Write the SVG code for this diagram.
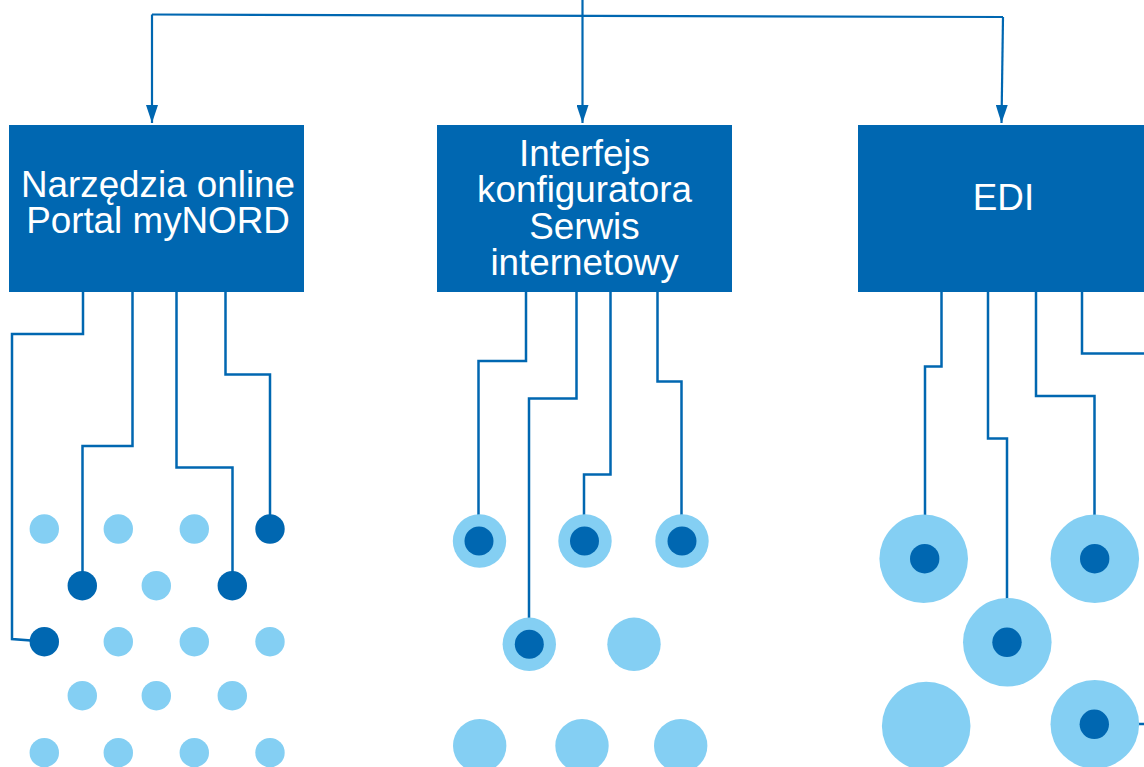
<svg xmlns="http://www.w3.org/2000/svg" width="1144" height="767" viewBox="0 0 1144 767">
<style>
.box{fill:#0067b1}
.lbl{font-family:"Liberation Sans",Arial,sans-serif;font-size:36.8px;fill:#ffffff;text-anchor:middle}
.wire{fill:none;stroke:#0067b1;stroke-width:2.5}
.top{fill:none;stroke:#0067b1;stroke-width:2.2}
.lt{fill:#84cff3}
.dk{fill:#0067b1}
</style>
<defs>
<marker id="ah" viewBox="0 0 18 12" refX="18" refY="6" markerWidth="18" markerHeight="12" markerUnits="userSpaceOnUse" orient="auto">
<path d="M0,0 L18,6 L0,12 Z" fill="#0067b1"/>
</marker>
</defs>
<g id="connectors">
<path class="top" d="M582.5,0 V123" marker-end="url(#ah)"/>
<path class="top" d="M152,14.5 L1003,17"/>
<path class="top" d="M152,14.5 V123" marker-end="url(#ah)"/>
<path class="top" d="M1003,17 L1001.5,123" marker-end="url(#ah)"/>
<path class="wire" d="M83,292 V334 H12 V639 L44,641.5"/>
<path class="wire" d="M132.5,292 V446 H82.5 V585.5"/>
<path class="wire" d="M176.5,292 V467.5 H232.5 V585.5"/>
<path class="wire" d="M225.5,292 V374.5 H270 V529"/>
<path class="wire" d="M526,292 V361 H478.5 V541"/>
<path class="wire" d="M576.5,292 V398.5 H529 V644"/>
<path class="wire" d="M610.5,292 V474.5 H584 V541"/>
<path class="wire" d="M657.5,292 V381.5 H681.5 V541"/>
<path class="wire" d="M941.5,292 V366.5 H925 V558.5"/>
<path class="wire" d="M988,292 V438.5 H1007 V642"/>
<path class="wire" d="M1036,292 V396 H1094.5 V558.5"/>
<path class="wire" d="M1082,292 V353.5 H1144"/>
<path class="wire" d="M1094.5,724 H1144"/>
</g>
<g id="node-narzedzia">
<rect class="box" x="9" y="125" width="295" height="167"/>
<text class="lbl" x="158" y="197">Narzędzia online</text>
<text class="lbl" x="158" y="233">Portal myNORD</text>
</g>
<g id="node-interfejs">
<rect class="box" x="437" y="125" width="295" height="167"/>
<text class="lbl" x="584.5" y="166">Interfejs</text>
<text class="lbl" x="584.5" y="202">konfiguratora</text>
<text class="lbl" x="584.5" y="238.5">Serwis</text>
<text class="lbl" x="584.5" y="275">internetowy</text>
</g>
<g id="node-edi">
<rect class="box" x="858" y="125" width="290" height="167"/>
<text class="lbl" x="1003.5" y="209.5">EDI</text>
</g>
<g id="dots-1">
<circle class="lt" cx="44.3" cy="529" r="14.7"/>
<circle class="lt" cx="118.3" cy="529" r="14.7"/>
<circle class="lt" cx="194.3" cy="529" r="14.7"/>
<circle class="dk" cx="270" cy="529" r="14.7"/>
<circle class="dk" cx="82.3" cy="585.7" r="14.7"/>
<circle class="lt" cx="156.3" cy="585.7" r="14.7"/>
<circle class="dk" cx="232.3" cy="585.7" r="14.7"/>
<circle class="dk" cx="44.3" cy="641.7" r="14.7"/>
<circle class="lt" cx="118.3" cy="641.7" r="14.7"/>
<circle class="lt" cx="194.3" cy="641.7" r="14.7"/>
<circle class="lt" cx="270" cy="641.7" r="14.7"/>
<circle class="lt" cx="82.3" cy="695.7" r="14.7"/>
<circle class="lt" cx="156.3" cy="695.7" r="14.7"/>
<circle class="lt" cx="232.3" cy="695.7" r="14.7"/>
<circle class="lt" cx="44.3" cy="752.7" r="14.7"/>
<circle class="lt" cx="118.3" cy="752.7" r="14.7"/>
<circle class="lt" cx="194.3" cy="752.7" r="14.7"/>
<circle class="lt" cx="270" cy="752.7" r="14.7"/>
</g>
<g id="dots-2">
<circle class="lt" cx="479.5" cy="541" r="26.7"/>
<circle class="dk" cx="479" cy="541" r="14.5"/>
<circle class="lt" cx="585" cy="541" r="26.7"/>
<circle class="dk" cx="584.5" cy="541" r="14.5"/>
<circle class="lt" cx="682" cy="541" r="26.7"/>
<circle class="dk" cx="682" cy="541" r="14.5"/>
<circle class="lt" cx="529.3" cy="644.3" r="26.7"/>
<circle class="dk" cx="529.3" cy="644.3" r="14.5"/>
<circle class="lt" cx="634" cy="644.3" r="26.7"/>
<circle class="lt" cx="479.7" cy="745.7" r="26.7"/>
<circle class="lt" cx="582" cy="745.7" r="26.7"/>
<circle class="lt" cx="680.7" cy="745.7" r="26.7"/>
</g>
<g id="dots-3">
<circle class="lt" cx="923.7" cy="558.7" r="44.3"/>
<circle class="dk" cx="924.7" cy="558.7" r="14.7"/>
<circle class="lt" cx="1007.3" cy="642.3" r="44.3"/>
<circle class="dk" cx="1007" cy="642.3" r="14.7"/>
<circle class="lt" cx="1094.8" cy="558.7" r="44.3"/>
<circle class="dk" cx="1094.7" cy="558.7" r="14.7"/>
<circle class="lt" cx="926.2" cy="726" r="44.3"/>
<circle class="lt" cx="1094.8" cy="724.3" r="44.3"/>
<circle class="dk" cx="1094.3" cy="724.3" r="14.7"/>
</g>
</svg>
